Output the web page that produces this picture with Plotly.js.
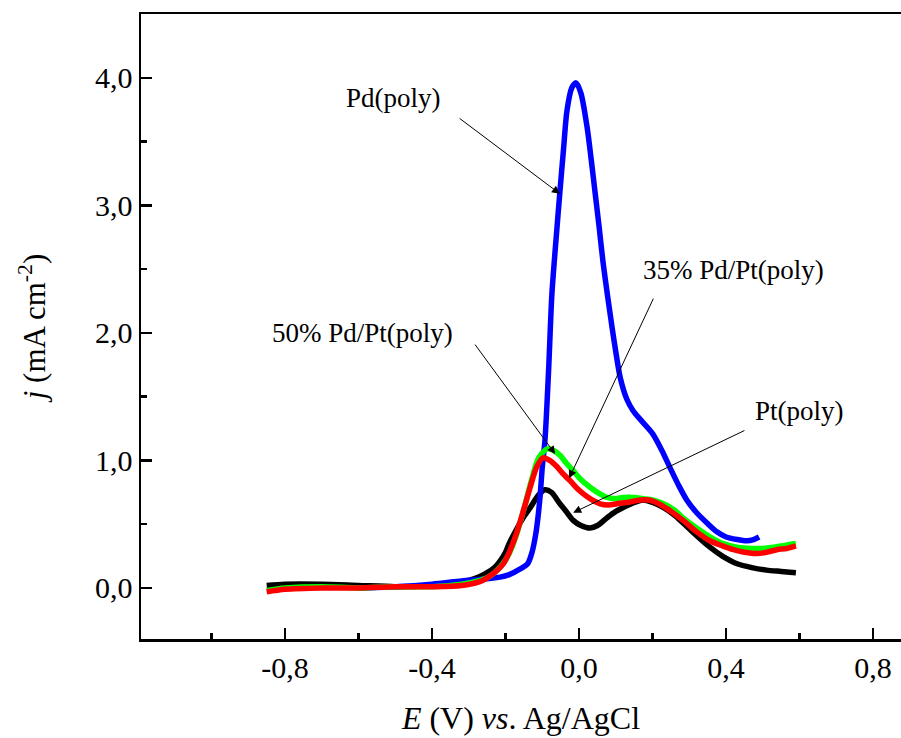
<!DOCTYPE html>
<html>
<head>
<meta charset="utf-8">
<script src="https://cdn.plot.ly/plotly-3.0.1.min.js"></script>
<style>html,body{margin:0;padding:0;background:#fff;}#chart{width:901px;height:738px;}</style>
</head>
<body>
<div id="chart"></div>
<script>
// Pt(poly) - black
const ptE = [-0.85,-0.80,-0.70,-0.60,-0.50,-0.40,-0.34,-0.30,-0.27,-0.25,-0.23,-0.215,-0.20,-0.19,-0.17,-0.15,-0.133,-0.11,-0.093,-0.075,-0.052,-0.035,-0.016,0.005,0.03,0.05,0.076,0.10,0.12,0.15,0.174,0.20,0.23,0.26,0.283,0.32,0.356,0.39,0.43,0.47,0.51,0.55,0.59];
const ptJ = [0.02,0.03,0.03,0.02,0.01,0.02,0.04,0.06,0.09,0.12,0.16,0.21,0.28,0.35,0.46,0.56,0.63,0.73,0.77,0.75,0.66,0.60,0.53,0.49,0.47,0.49,0.55,0.60,0.63,0.67,0.69,0.67,0.63,0.57,0.51,0.41,0.32,0.25,0.19,0.16,0.14,0.13,0.12];
// Pd(poly) - blue
const pdE = [-0.60,-0.50,-0.40,-0.32,-0.26,-0.215,-0.19,-0.16,-0.14,-0.128,-0.118,-0.112,-0.106,-0.10,-0.093,-0.083,-0.074,-0.063,-0.052,-0.042,-0.033,-0.02,-0.008,0.005,0.022,0.033,0.044,0.055,0.065,0.078,0.09,0.10,0.112,0.13,0.147,0.17,0.20,0.225,0.248,0.27,0.293,0.32,0.348,0.375,0.40,0.43,0.457,0.475,0.49];
const pdJ = [0.0,0.01,0.03,0.055,0.07,0.085,0.105,0.15,0.19,0.28,0.42,0.55,0.72,0.95,1.15,1.70,2.30,2.72,3.11,3.45,3.74,3.92,3.96,3.88,3.61,3.36,3.09,2.82,2.56,2.28,2.04,1.85,1.65,1.48,1.39,1.31,1.21,1.08,0.94,0.81,0.69,0.59,0.51,0.44,0.40,0.38,0.37,0.38,0.40];
// 50% Pd/Pt(poly) - green
const p50E = [-0.85,-0.80,-0.70,-0.60,-0.50,-0.40,-0.32,-0.27,-0.25,-0.23,-0.21,-0.19,-0.17,-0.15,-0.13,-0.11,-0.087,-0.07,-0.052,-0.035,-0.016,0.005,0.03,0.05,0.076,0.10,0.12,0.15,0.174,0.20,0.23,0.26,0.283,0.32,0.356,0.39,0.43,0.47,0.50,0.55,0.59];
const p50J = [-0.02,0.0,0.01,0.0,0.01,0.01,0.03,0.06,0.08,0.12,0.18,0.27,0.42,0.62,0.84,1.02,1.09,1.08,1.04,0.98,0.92,0.85,0.79,0.75,0.71,0.70,0.71,0.71,0.70,0.69,0.66,0.61,0.55,0.47,0.40,0.35,0.32,0.31,0.31,0.33,0.35];
// 35% Pd/Pt(poly) - red
const p35E = [-0.85,-0.80,-0.70,-0.60,-0.50,-0.40,-0.32,-0.27,-0.25,-0.23,-0.206,-0.19,-0.17,-0.15,-0.133,-0.115,-0.098,-0.08,-0.06,-0.042,-0.024,-0.005,0.011,0.03,0.057,0.08,0.103,0.13,0.166,0.19,0.21,0.24,0.283,0.32,0.356,0.39,0.42,0.45,0.484,0.51,0.538,0.565,0.59];
const p35J = [-0.03,-0.01,0.0,0.0,0.01,0.01,0.02,0.05,0.08,0.12,0.19,0.28,0.43,0.62,0.79,0.95,1.02,1.00,0.95,0.89,0.84,0.78,0.74,0.70,0.66,0.65,0.66,0.67,0.69,0.69,0.67,0.62,0.53,0.44,0.37,0.33,0.30,0.28,0.27,0.28,0.30,0.31,0.33];

const xTickVals = [-0.8,-0.4,0.0,0.4,0.8];
const xTickText = ['-0,8','-0,4','0,0','0,4','0,8'];
const yTickVals = [0,1,2,3,4];
const yTickText = ['0,0','1,0','2,0','3,0','4,0'];

const labels = ['Pd(poly)','50% Pd/Pt(poly)','35% Pd/Pt(poly)','Pt(poly)'];
const labelX = [-0.505,-0.589,0.42,0.599];
const labelY = [3.84,2.00,2.49,1.39];
const arrowHeadX = [-0.052,-0.065,-0.027,-0.016];
const arrowHeadY = [3.09,1.05,0.86,0.59];
const arrowTailX = [-0.329,-0.286,0.204,0.454];
const arrowTailY = [3.69,1.92,2.28,1.24];

const FONT = '"Times New Roman", "Liberation Serif", serif';

function tr(x, y, color) {
  return {x: x, y: y, type: 'scatter', mode: 'lines',
    line: {color: color, width: 5.5, shape: 'spline', smoothing: 0.8},
    hoverinfo: 'skip', showlegend: false};
}
const data = [
  tr(ptE, ptJ, '#000000'),
  tr(pdE, pdJ, '#0000ff'),
  tr(p50E, p50J, '#00ff00'),
  tr(p35E, p35J, '#ff0000')
];

const annotations = [];
for (let i = 0; i < labels.length; i++) {
  annotations.push({x: labelX[i], y: labelY[i], xref: 'x', yref: 'y', text: labels[i],
    showarrow: false, font: {family: FONT, size: 27, color: '#000'}});
  annotations.push({x: arrowHeadX[i], y: arrowHeadY[i], xref: 'x', yref: 'y',
    ax: arrowTailX[i], ay: arrowTailY[i], axref: 'x', ayref: 'y', text: '',
    showarrow: true, arrowhead: 2, arrowsize: 1.6, arrowwidth: 1, arrowcolor: '#000', standoff: 0});
}

const layout = {
  width: 901, height: 738,
  margin: {l: 141, r: 0, t: 14, b: 99},
  paper_bgcolor: '#fff', plot_bgcolor: '#fff',
  font: {family: FONT, color: '#000'},
  showlegend: false,
  xaxis: {range: [-1.192, 0.876], showgrid: false, zeroline: false,
    showline: true, linewidth: 2.5, linecolor: '#000', mirror: true,
    tickmode: 'array', tickvals: xTickVals, ticktext: xTickText,
    ticks: 'inside', ticklen: 11, tickwidth: 2.5, tickcolor: '#000',
    minor: {tickmode: 'linear', tick0: 0, dtick: 0.2, ticks: 'inside', ticklen: 6, tickwidth: 2.5, tickcolor: '#000'},
    tickfont: {family: FONT, size: 30, color: '#000'},
    title: {text: '<i>E</i> (V) <i>vs</i>. Ag/AgCl', font: {family: FONT, size: 32, color: '#000'}, standoff: 24}
  },
  yaxis: {range: [-0.4, 4.5], showgrid: false, zeroline: false,
    showline: true, linewidth: 2.5, linecolor: '#000', mirror: false,
    tickmode: 'array', tickvals: yTickVals, ticktext: yTickText,
    ticks: 'inside', ticklen: 11, tickwidth: 2.5, tickcolor: '#000',
    minor: {tickmode: 'linear', tick0: 0, dtick: 0.5, ticks: 'inside', ticklen: 6, tickwidth: 2.5, tickcolor: '#000'},
    tickfont: {family: FONT, size: 30, color: '#000'},
    title: {text: '<i>j</i> (mA cm<sup>-2</sup>)', font: {family: FONT, size: 31, color: '#000'}, standoff: 40}
  },
  annotations: annotations
};

Plotly.newPlot('chart', data, layout, {displayModeBar: false, staticPlot: true});
</script>
</body>
</html>
